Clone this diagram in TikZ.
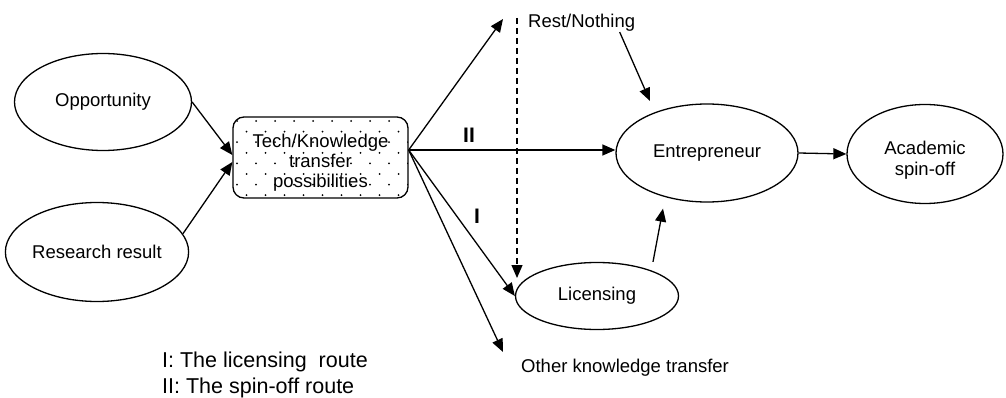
\documentclass[tikz,border=0pt]{standalone}
\usepackage{fontspec}
\setmainfont{Liberation Sans}
\usetikzlibrary{arrows.meta,shapes.geometric}
\newcommand\lowered[2]{\raisebox{-#1}[\height][\depth]{\begin{tabular}{@{}c@{}}#2\end{tabular}}}
\begin{document}
\begin{tikzpicture}[x=1pt,y=-1pt,
  every node/.style={font=\fontsize{18.5}{21}\selectfont},
  oval/.style={draw,ellipse,line width=1.3pt,inner sep=0pt},
  arr/.style={line width=1.3pt,-{Triangle[length=13pt,width=11pt]}},
  txt/.style={anchor=base west,inner sep=0pt},
  legendtxt/.style={anchor=base west,inner sep=0pt,font=\fontsize{21.5}{26}\selectfont},
  roman/.style={font=\bfseries\fontsize{21}{21}\selectfont,inner sep=0pt}
]
\useasboundingbox (0,0) rectangle (1006,398);

% dotted fill of the central box
\begin{scope}
  \clip[rounded corners=11pt] (233,117) rectangle (408,198);
  \foreach \r in {0,...,7} {
    \pgfmathsetmacro\yy{121+\r*10.6}
    \pgfmathsetmacro\off{mod(\r,2)*9.5}
    \foreach \c in {0,...,9} {
      \fill ({237+\off+\c*19},\yy) circle (1pt);
    }
  }
\end{scope}

% nodes
\node[oval,minimum width=177pt,minimum height=97pt] (opp) at (103,102) {Opportunity};
\node[oval,minimum width=177pt,minimum height=99pt] (res) at (97,252) {Research result};
\node[draw,rounded corners=11pt,line width=1.3pt,minimum width=175pt,minimum height=81pt,
      inner sep=0pt] (tech) at (320.5,157.5)
      {\lowered{6pt}{Tech/Knowledge\\[-1pt]transfer\\[-1pt]possibilities}};
\node[oval,minimum width=182pt,minimum height=98pt] (ent) at (707,153) {Entrepreneur};
\node[oval,minimum width=156pt,minimum height=99pt] (acad) at (925,154) {\lowered{7pt}{Academic\\spin-off}};
\node[oval,minimum width=163pt,minimum height=67pt] (lic) at (597,296) {Licensing};
\node[txt] (rest) at (528,28) {Rest/Nothing};
\node[txt] (other) at (521,372) {Other knowledge transfer};
\node[legendtxt] (leg1) at (162,367) {I: The licensing\ \ route};
\node[legendtxt] (leg2) at (162,393) {II: The spin-off route};
\node[roman] (lII) at (469,135) {II};
\node[roman] (lI) at (477,216) {I};

% helper coordinates
\coordinate (src) at ([yshift=7.5pt]tech.east);
\coordinate (upend) at (503,19);
\coordinate (othend) at (503,352);
\coordinate (dtop) at (517,18);
\coordinate (dbot) at (517,278);
\coordinate (entin) at (650,101);

% connectors
\draw[arr] (opp.east) -- ([yshift=2.5pt]tech.west);
\draw[arr] (res.12) -- ([yshift=-4.5pt]tech.west);
\draw[arr] (src) -- (upend);
\draw[arr] (src) -- (src -| ent.west);
\draw[arr] (src) -- (lic.west);
\draw[arr] (src) -- (othend);
\draw[arr,dash pattern=on 6pt off 4pt] (dtop) -- (dbot);
\draw[arr] ([xshift=38pt]rest.south) -- (entin);
\draw[arr] ([xshift=56pt]lic.north) -- ([xshift=-44pt,yshift=-6pt]ent.south);
\draw[arr] (ent.east) -- (acad.west);
\end{tikzpicture}
\end{document}
